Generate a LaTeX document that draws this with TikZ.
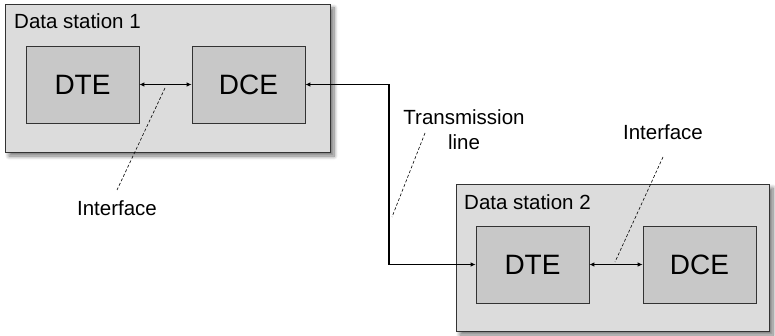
\documentclass[tikz,border=0pt]{standalone}
\usepackage{fontspec}
\setmainfont{Liberation Sans}
\usetikzlibrary{shadows.blur,arrows.meta}
\definecolor{stationfill}{HTML}{DCDCDC}
\definecolor{unitfill}{HTML}{C8C8C8}
\definecolor{edge}{HTML}{333333}
\begin{document}
\begin{tikzpicture}[x=1pt,y=-1pt,
  station/.style={draw=edge,line width=0.9pt,fill=stationfill,
    blur shadow={shadow xshift=4pt,shadow yshift=-4pt,shadow blur steps=8,shadow blur radius=4pt,shadow opacity=55}},
  unit/.style={draw=edge,line width=0.7pt,fill=unitfill,font=\fontsize{28}{31}\selectfont,inner sep=0pt},
  link/.style={line width=1.1pt,{Latex[length=5pt,width=4.5pt]}-{Latex[length=5pt,width=4.5pt]}},
  leader/.style={line width=0.6pt,dash pattern=on 3pt off 2pt},
  lbl/.style={font=\fontsize{20.5}{23}\selectfont,inner sep=0pt,anchor=base}]
\useasboundingbox (0,0) rectangle (775,336);
% data station 1
\node[station,minimum width=325pt,minimum height=148pt] (st1) at (167.5,78) {};
\node[lbl,anchor=base west] (st1label) at (14,29) {Data station 1};
\node[unit,minimum width=113pt,minimum height=77pt] (dte1) at (82.5,84.5) {DTE};
\node[unit,minimum width=113pt,minimum height=77pt] (dce1) at (248.5,84.5) {DCE};
% data station 2
\node[station,minimum width=313pt,minimum height=147pt] (st2) at (612.5,257.5) {};
\node[lbl,anchor=base west] (st2label) at (464,210) {Data station 2};
\node[unit,minimum width=113pt,minimum height=77pt] (dte2) at (532.5,264.5) {DTE};
\node[unit,minimum width=113pt,minimum height=77pt] (dce2) at (699.5,264.5) {DCE};
% interfaces
\draw[link] (dte1.east) -- (dce1.west);
\draw[link] (dte2.east) -- (dce2.west);
% transmission line
\coordinate (bend) at (389,0);
\draw[link] (dce1.east) -- (dce1.east -| bend) -- (bend |- dte2.west) -- (dte2.west);
% labels and leader lines
\node[lbl] (if1) at (117,216) {Interface};
\coordinate (if1a) at (165,88);
\coordinate (if1b) at (117,190);
\draw[leader] (if1a) -- (if1b);
\node[lbl] (if2) at (663,140) {Interface};
\coordinate (if2a) at (663,157);
\coordinate (if2b) at (615,262);
\draw[leader] (if2a) -- (if2b);
\node[lbl] (tx1) at (464,125) {Transmission};
\node[lbl] (tx2) at (464,150) {line};
\coordinate (txa) at (425,133);
\coordinate (txb) at (392,217);
\draw[leader] (txa) -- (txb);
\end{tikzpicture}
\end{document}
